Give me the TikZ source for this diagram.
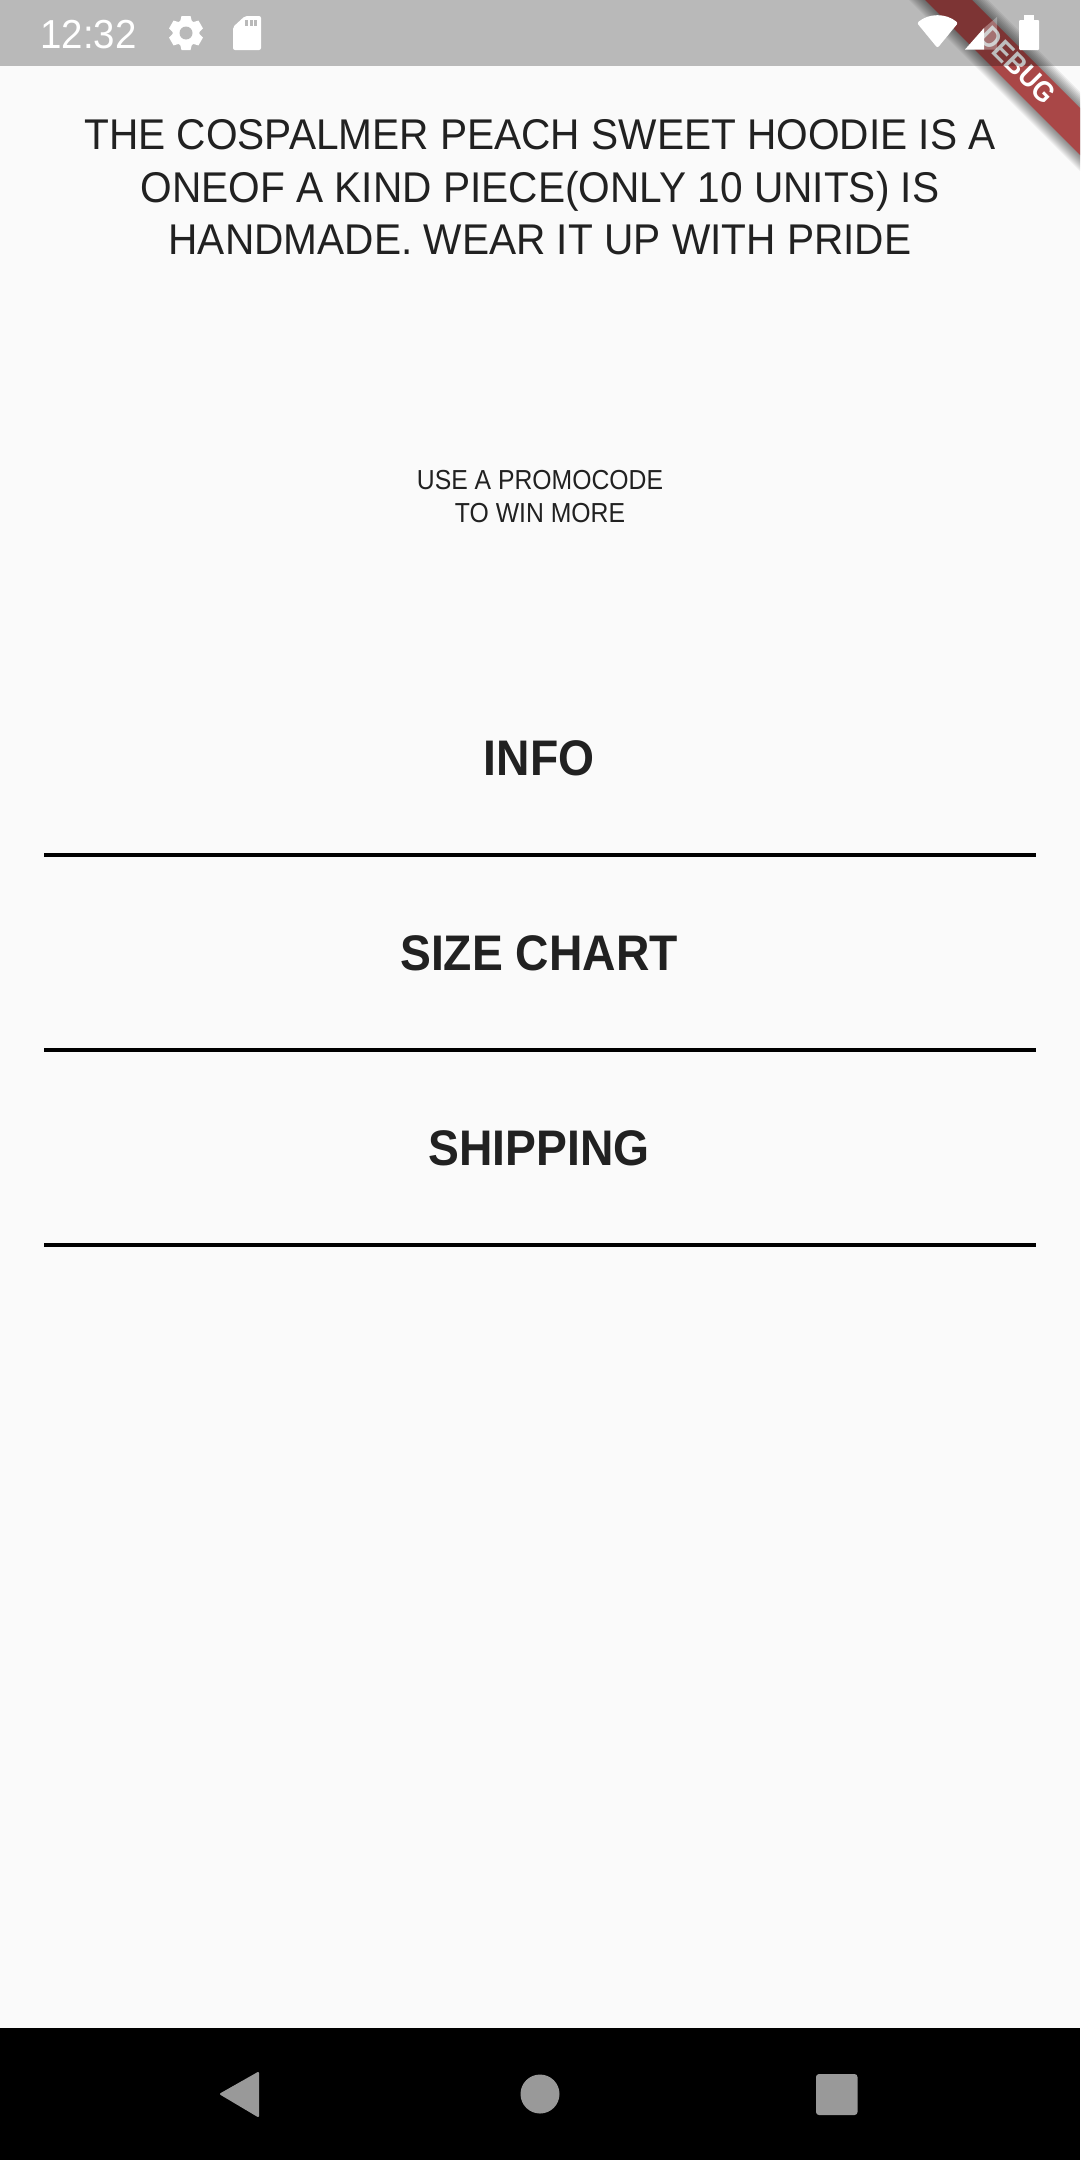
\documentclass[tikz,border=0pt]{standalone}
\usepackage{fontspec}
\setmainfont{Liberation Sans}
\usetikzlibrary{calc}
\definecolor{pagebg}{HTML}{FAFAFA}
\definecolor{barbg}{HTML}{B9B9B9}
\definecolor{inkdark}{HTML}{212121}
\definecolor{navgray}{HTML}{999999}
\definecolor{ribbonred}{HTML}{B71C1C}
\tikzset{
  bodytext/.style={text=inkdark,align=center,inner sep=0pt,
    font=\fontsize{43}{52.5}\selectfont\addfontfeature{FakeStretch=.945}},
  promotext/.style={text=inkdark,align=center,inner sep=0pt,
    font=\fontsize{27.5}{33}\selectfont\addfontfeature{FakeStretch=.9}},
  tabtext/.style={text=inkdark,anchor=base,inner sep=0pt,
    font=\fontsize{50}{60}\selectfont\bfseries\addfontfeature{FakeStretch=.925}},
  divider/.style={black,line width=4.4pt},
  navicon/.style={fill=navgray,draw=navgray,line join=round,line width=2pt},
}
\begin{document}
\begin{tikzpicture}[x=1pt,y=-1pt]
\useasboundingbox (0,0) rectangle (1080,2160);
\fill[pagebg] (0,0) rectangle (1080,2160);
% ribbon
\begin{scope}
\clip (0,0) rectangle (1080,2160);
\foreach \w in {16,14,...,2}
  \fill[black,opacity=.062] (925-\w,0) -- (972+\w,0) -- (1080,108-\w) -- (1080,155+\w) -- cycle;
\fill[ribbonred,opacity=.63] (925,0) -- (972,0) -- (1080,108) -- (1080,155) -- cycle;
\end{scope}
\node[text=white,rotate=-45,inner sep=0pt,font=\fontsize{29}{29}\selectfont\bfseries\addfontfeature{FakeStretch=.9}] (debug) at (1017.5,65) {DEBUG};
% status bar
\fill[black,opacity=.26] (0,0) rectangle (1080,66);
\node[text=white,anchor=base,inner sep=0pt,font=\fontsize{40.5}{40}\selectfont\addfontfeature{FakeStretch=.95}] (clock) at (88.5,48) {12:32};
\coordinate (gear) at (186,33);
\foreach \a in {0,60,...,300}
  \fill[white,rotate around={\a:(gear)}] ($(gear)+(-4.5,-17)$) -- ($(gear)+(4.5,-17)$) -- ($(gear)+(6,-11)$) -- ($(gear)+(-6,-11)$) -- cycle;
\fill[white] (gear) circle (13.5);
\fill[barbg] (gear) circle (6.5);
\fill[white,rounded corners=2pt] (245,16) -- (261,16) -- (261,50) -- (233,50) -- (233,27) -- cycle;
\foreach \x in {245,249.5,254}
  \fill[barbg] (\x,19.5) rectangle +(3,6.5);
\fill[white,rounded corners=2pt] (917,23) .. controls (929,13) and (946,13) .. (958,23) -- (937.5,48) -- cycle;
\fill[white,opacity=.3] (984,28) -- (997,17) -- (997,49.5) -- (984,49.5) -- cycle;
\fill[white] (965,49.5) -- (984,28) -- (984,49.5) -- cycle;
\fill[white,rounded corners=1pt] (1019,20) rectangle (1039,50);
\fill[white] (1024,15) rectangle (1034,21);
% texts
\node[bodytext] (title) at (540,187.5) {THE COSPALMER PEACH SWEET HOODIE IS A\\ONEOF A KIND PIECE(ONLY 10 UNITS) IS\\HANDMADE. WEAR IT UP WITH PRIDE};
\node[promotext] (promo) at (540,497) {USE A PROMOCODE\\TO WIN MORE};
\node[tabtext] (info) at (539,775) {INFO};
\node[tabtext] (size) at (539,970) {SIZE CHART};
\node[tabtext] (ship) at (539,1165) {SHIPPING};
\coordinate (la) at (44,855); \coordinate (ra) at (1036,855);
\coordinate (lb) at (44,1050); \coordinate (rb) at (1036,1050);
\coordinate (lc) at (44,1245); \coordinate (rc) at (1036,1245);
\draw[divider] (la)--(ra);
\draw[divider] (lb)--(rb);
\draw[divider] (lc)--(rc);
% nav bar
\fill[black] (0,2028) rectangle (1080,2160);
\path[navicon] (221,2094) -- (258,2073) -- (258,2116) -- cycle;
\fill[navgray] (540,2094) circle (19.5);
\fill[navgray,rounded corners=3pt] (816,2074) rectangle (857.5,2115);
\end{tikzpicture}
\end{document}
